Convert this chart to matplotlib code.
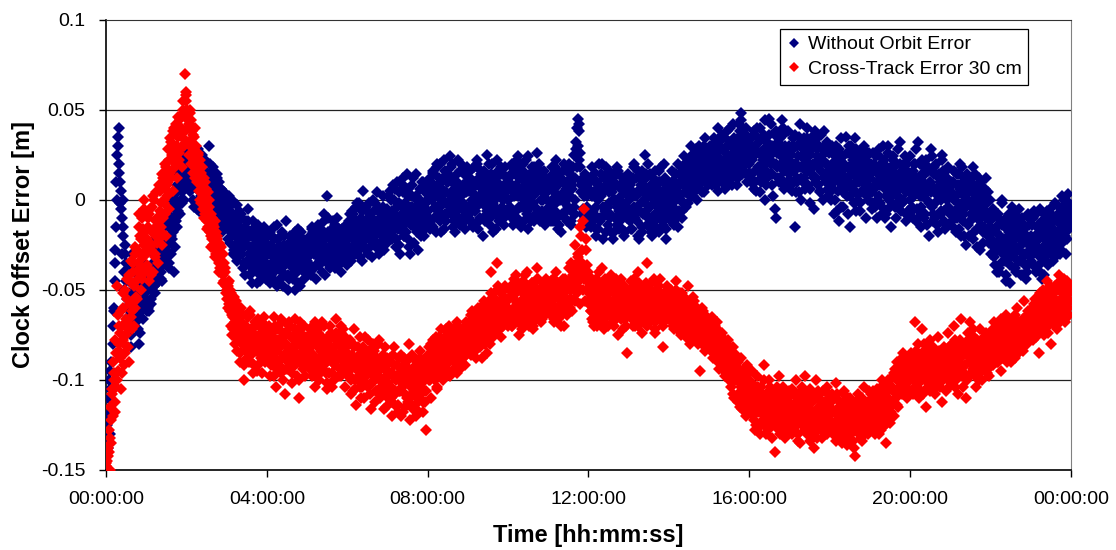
import numpy as np
import matplotlib
matplotlib.use("Agg")
import matplotlib.pyplot as plt
from matplotlib.lines import Line2D

# ---------------- data (clock offset error, millimetres) ----------------
# three interleaved sample sets, each one value every 2 minutes;
# set a at +0 s, set b at +40 s, set c at +80 s within each 2-minute step
SAMPLE_MIN = 2
SET_OFFSETS_MIN = [0.0, 2.0 / 3.0, 4.0 / 3.0]

without_orbit_a_mm = [
    -140, -125, -110, -95, -118, -80, -60, -35, 0, 35, 20, 5, -10, -20, -30, -45, -60, -52, -70, -38, -55, -65, -48, -60, -72, -50, -62, -45, -58, -40,
    -55, -45, -62, -40, -50, -35, -48, -30, -42, -25, -38, -20, -45, -15, -30, -28, -12, -35, -5, -22, -10, -40, 0, -15, 5, -8, 10, -2, 15, 8,
    20, 10, 28, 5, 15, 0, 22, 12, -5, 18, 8, 2, 25, 10, -2, 15, 5, 30, 0, 12, -8, 8, -3, 14, 2, -10, 6, -6, 4, -12,
    -5, -15, 2, -10, -20, -8, -25, -12, -3, -18, -28, -10, -22, -35, -15, -25, -5, -30, -20, -40, -12, -28, -18, -33, -25, -45, -22, -30, -15, -38,
    -30, -20, -40, -25, -35, -15, -45, -28, -22, -38, -32, -18, -48, -25, -35, -30, -42, -20, -28, -36, -24, -50, -30, -16, -38, -27, -33, -22, -40, -28,
    -28, -35, -20, -30, -15, -38, -25, -18, -32, -22, -28, -40, -20, -12, -26, 2, -30, -22, -35, -18, -25, -14, -30, -20, -36, -24, -16, -28, -20, -32,
    -22, -12, -30, -18, -8, -25, -15, -2, -20, -28, -10, -18, 5, -14, -22, -6, -16, -26, -10, 0, -20, -12, -24, -4, -15, -8, -18, 2, -12, -20,
    -5, -15, 5, -10, -20, 0, -8, 10, -12, -25, -3, -15, 8, -6, -18, 2, -10, -30, -4, 12, -8, -16, 0, -12, 6, -20, -2, -10, 4, -14,
    0, -10, 12, 5, -15, 8, -5, 18, 2, -12, 10, -3, 22, -8, 4, 14, -6, 0, 20, -15, 6, -2, 10, -10, 16, 2, -5, 8, -12, 4,
    5, -8, 12, 0, -15, 8, -4, 20, 2, -10, 14, -2, 6, -12, 25, 0, 10, -6, 4, -18, 8, 15, -5, 2, -10, 18, 0, 6, -8, 12,
    0, 10, -8, 18, 4, -12, 8, 22, -4, 12, -15, 6, 0, 15, -6, 24, 2, -10, 10, -2, 16, -8, 4, 20, -12, 8, 0, 12, -6, 5,
    5, -10, 12, 0, -6, 18, -2, 8, -14, 15, 2, -8, 20, 0, 10, -5, 14, -12, 6, 25, 0, 32, 45, 38, 18, 10, -5, 8, -15, 2,
    -5, 10, -15, 2, -8, 15, -20, 0, 8, -12, 20, -4, 5, -18, 12, -2, -10, 6, -22, 10, 0, -14, 16, -6, 2, -16, 8, -3, 12, -10,
    0, -12, 10, -5, 18, -8, 4, -20, 12, -2, -15, 8, 25, -6, 2, -10, 14, -18, 6, 0, -12, 10, -4, 16, -8, 2, -14, 6, -22, 4,
    -5, 8, -12, 2, 15, -8, 5, -15, 10, 0, -6, 12, 20, 4, -2, 16, 8, 25, 2, 14, 22, 6, 18, 10, 28, 12, 4, 20, 15, 8,
    15, 25, 8, 20, 30, 12, 22, 5, 18, 28, 14, 35, 20, 10, 25, 16, 32, 8, 22, 18, 30, 26, 12, 38, 48, 20, 28, 15, 35, 22,
    20, 10, 30, 15, 25, 5, 35, 18, 40, 12, 22, 28, 0, 32, 15, 45, 20, 8, 26, 36, -10, 18, 30, 12, 24, 40, 16, 28, 10, 22,
    15, 25, 5, 30, -15, 20, 10, 35, 18, 0, 28, 12, 22, 40, 8, 25, 15, 30, -5, 20, 12, 35, 22, 5, 28, 15, 38, 10, 20, 2,
    10, 0, 20, -8, 15, 30, 5, -12, 22, 8, -4, 18, 35, 2, 12, -15, 25, 6, -2, 16, 28, 0, 10, -6, 20, 4, 14, -10, 24, 8,
    5, 15, -5, 20, 8, -10, 25, 2, 12, -4, 30, 6, -8, 18, 0, 10, -15, 22, 4, 14, -2, 28, 8, -6, 16, 0, 12, -12, 20, 5,
    0, 12, -10, 5, 20, -5, 32, 8, -15, 2, 15, -8, 22, 0, -20, 10, 4, -12, 18, -2, 6, -18, 14, 0, 25, -6, 8, -14, 10, 2,
    -5, 8, -15, 0, 15, -10, -2, 20, -20, 5, -8, 12, -25, 0, 10, -12, -4, 18, -18, 2, -10, 8, -28, -3, 6, -15, -6, 12, -20, -8,
    -15, -25, -5, -30, -18, -40, -10, -22, -35, 0, -28, -15, -45, -20, -8, -32, -24, -12, -38, -18, -28, -5, -34, -22, -42, -14, -30, -20, -36, -10,
    -20, -30, -10, -25, -38, -15, -28, -5, -35, -18, -42, -22, -12, -30, -20, -8, -26, -16, -32, -10, -24, -4, -18, -28, -12, 0, -20, -8, 3, -14,
]

without_orbit_b_mm = [
    -135, -120, -100, -130, -105, -70, -45, -15, 25, 40, 10, -5, 0, -40, -25, -55, -65, -45, -75, -30, -62, -50, -68, -42, -80, -55, -48, -66, -35, -52,
    -48, -60, -38, -55, -42, -30, -52, -25, -46, -32, -18, -40, -28, -22, -35, -8, -25, -15, -30, 2, -18, -5, -12, 8, -3, 12, 4, 18, 0, 22,
    15, 25, 5, 18, 30, 8, 12, -2, 20, 0, 14, 6, -8, 16, 3, 10, -5, 20, 6, -4, 12, -10, 5, -6, 10, -15, 0, -8, -14, -2,
    -10, -22, -8, -18, 0, -28, -14, -20, -32, -6, -24, -16, -38, -26, -12, -34, -20, -42, -18, -26, -36, -22, -46, -30, -20, -34, -40, -25, -32, -20,
    -25, -38, -18, -42, -30, -22, -35, -48, -26, -32, -20, -40, -30, -36, -12, -28, -44, -34, -24, -30, -40, -18, -35, -46, -22, -32, -26, -38, -34, -24,
    -32, -22, -40, -26, -18, -30, -36, -28, -14, -34, -24, -30, -8, -22, -32, -18, -26, -38, -16, -28, -20, -32, -10, -26, -22, -30, -18, -24, -34, -14,
    -18, -26, -8, -30, -14, -20, -4, -24, -16, -32, -12, -6, -22, -18, -28, -10, -2, -20, -14, -24, -6, -18, 4, -16, -26, -10, -14, -22, -8, -16,
    -10, 2, -18, -6, 8, -14, -22, -4, 4, -16, -10, 12, -20, -2, -12, 6, -26, -8, 2, -14, -4, 14, -18, -8, 0, -12, 10, -6, -16, 0,
    -6, 8, -14, 0, 15, -4, -18, 6, -10, 20, -2, 12, -16, 4, -8, 10, -4, 18, 2, -12, 8, -6, 22, 0, -14, 6, -2, 14, -8, 10,
    -4, 10, -12, 6, 18, -6, 2, -16, 12, -2, 8, -10, 16, 4, -6, 10, -14, 6, 20, 0, -8, 12, 2, -12, 8, -4, 14, -10, 4, 10,
    8, -4, 14, -10, 6, 18, -6, 2, 12, -14, 4, 20, -2, 10, -8, 6, 14, -12, 2, 18, -4, 10, -10, 6, 16, -6, 4, -14, 12, 0,
    -4, 8, -12, 14, 4, -6, 10, -16, 2, 12, -8, 16, -2, 6, -12, 10, 2, -6, 18, -4, 12, 40, 30, 22, 4, -8, 12, -10, 6, -6,
    6, -8, 12, -12, 4, -4, 10, -16, 2, 14, -10, 6, -6, 18, -14, 4, -8, 12, 0, -18, 8, -4, 14, -12, 6, -2, -20, 10, -6, 2,
    -8, 6, -16, 12, -4, 2, -12, 16, -6, 8, -18, 4, -2, 14, -10, 6, -14, 2, 12, -8, 4, -16, 10, -4, 18, -12, 0, 12, -6, -2,
    4, -8, 10, -4, 6, 14, -10, 8, 2, 18, -2, 10, 4, 16, 8, 22, 10, 4, 20, 12, 28, 16, 8, 24, 14, 20, 30, 10, 26, 18,
    22, 12, 30, 18, 8, 26, 16, 32, 20, 10, 28, 22, 14, 30, 18, 40, 24, 12, 34, 20, 16, 28, 42, 22, 30, 18, 26, 36, 24, 14,
    28, 14, 22, 38, 10, 26, 18, 32, 4, 24, 16, 36, 20, 12, 30, 22, 42, 14, 28, -5, 20, 32, 10, 26, 18, 36, 6, 24, 16, 30,
    20, 8, 28, 16, 36, 12, 24, 4, 32, 18, 10, 26, 16, 34, 20, 6, 28, 18, 12, 38, 24, 8, 30, 16, 22, 0, 26, 14, 32, 12,
    4, 16, 26, 10, 0, 20, 12, 28, -4, 14, 24, 6, 18, 10, 30, 2, 16, 22, 8, -6, 20, 12, 26, 4, 14, 30, 8, 18, 0, 12,
    12, -2, 18, 6, 24, 0, 14, 8, 20, -8, 10, 16, 2, 26, 8, -4, 14, 6, 18, -10, 10, 2, 20, 12, -2, 8, 24, 4, -6, 14,
    8, -6, 16, 2, -12, 12, 6, 20, -4, 10, -10, 14, 4, 18, -2, 8, 24, -8, 6, 14, -14, 4, 10, -6, 16, 2, -16, 12, -4, 6,
    4, -12, 10, -6, 2, 14, -16, 6, -4, 10, -20, 0, 8, -14, 4, -8, 12, -22, -2, 6, -16, 2, -10, 10, -24, -6, 0, -18, 4, -12,
    -22, -10, -32, -16, -26, -8, -38, -20, -14, -30, -24, -42, -12, -28, -36, -18, -4, -30, -22, -40, -12, -26, -20, -34, -30, -16, -44, -24, -8, -28,
    -26, -14, -36, -20, -8, -30, -22, -40, -12, -26, -16, -34, -6, -24, -14, -30, -10, -22, -2, -18, -28, -8, -14, -24, -4, -16, -10, -22, -2, -6,
]

without_orbit_c_mm = [
    -128, -138, -105, -90, -112, -62, -28, 10, 30, 15, -2, -30, -15, -50, -35, -68, -40, -58, -82, -46, -70, -36, -56, -64, -44, -74, -52, -38, -60, -46,
    -62, -50, -44, -58, -36, -48, -22, -40, -34, -16, -44, -26, -10, -32, -24, -14, -38, -2, -20, -12, 0, -26, 6, -6, 14, 0, 20, 6, 24, 12,
    26, 14, 8, 24, 12, -4, 18, 6, 28, -6, 10, 16, 0, 22, -10, 6, 14, -2, 10, 18, -12, 2, 12, -8, -2, 6, -18, -4, -10, 0,
    -16, -4, -24, -12, -30, -2, -20, -34, -14, -24, -8, -30, -18, -42, -22, -12, -36, -26, -46, -16, -32, -24, -38, -14, -42, -28, -18, -36, -26, -44,
    -36, -26, -46, -20, -32, -40, -28, -14, -38, -44, -26, -34, -20, -42, -30, -50, -24, -36, -28, -44, -32, -22, -40, -30, -48, -18, -36, -44, -26, -34,
    -22, -30, -42, -16, -28, -24, -44, -20, -36, -26, -16, -34, -28, -42, -20, -10, -36, -26, -30, -12, -38, -22, -34, -16, -28, -40, -20, -30, -24, -36,
    -26, -16, -34, -6, -22, -30, -12, -28, -2, -20, -34, -14, -26, -4, -18, -30, -8, -22, -32, -16, -2, -26, -14, -30, -10, -20, -4, -28, -18, -24,
    -18, -8, 0, -22, -12, 6, -26, -16, -2, -30, -8, 4, -20, -12, 14, -22, -4, -14, 8, -24, -10, 2, -28, -6, -16, 10, -12, -20, -2, 6,
    8, -16, 4, 16, -10, 2, 20, -6, 12, -18, 6, 0, 16, -12, 10, -2, 24, -8, 12, -4, -18, 14, 4, -10, 20, -4, 8, -16, 6, 18,
    -10, 16, 4, -14, 10, -6, 22, 0, -12, 16, 6, -20, 12, -4, 2, 20, -10, 14, -2, 8, -16, 22, 6, -8, 14, 2, -14, 18, -6, 0,
    12, -6, 20, -14, 2, 14, -10, 24, 6, -4, 16, -12, 8, 22, -16, 12, -4, 18, 6, -12, 12, 26, -6, 14, 0, -10, 16, 4, -12, 10,
    10, -4, 18, -12, 6, 22, -10, 14, 0, -18, 10, 4, -10, 16, -4, 20, -14, 8, 12, -8, 28, 18, 42, 26, 8, -12, 2, 14, -4, -14,
    -12, 4, 18, -6, 10, -16, 6, 20, -10, 2, -22, 12, -8, 8, -4, 16, -18, 4, 14, -10, -2, 18, -16, 8, -8, 12, -4, -18, 4, 14,
    8, -16, 2, 20, -10, 12, -6, -22, 4, 16, -8, 0, 12, -14, 20, -4, 8, -20, 2, 16, -10, 6, -18, 10, 0, -8, 20, -16, 8, -4,
    -10, 2, 16, -14, 10, 0, 20, -6, 14, -10, 8, 24, -4, 12, 22, 2, 30, 14, 8, 26, 0, 18, 30, 12, 4, 22, 34, 16, 10, 28,
    30, 18, 10, 34, 14, 24, 40, 10, 28, 36, 18, 6, 26, 38, 14, 22, 30, 42, 16, 28, 8, 34, 20, 44, 14, 32, 20, 40, 10, 30,
    14, 34, 24, 6, 30, 40, 16, 26, 10, 34, 22, 44, 8, 26, 36, 14, 30, 2, 20, 38, 26, 12, 34, 20, 44, 8, 30, 18, 38, 14,
    28, 10, 34, 20, 4, 30, 18, 42, 12, 24, 34, 6, 30, 16, 26, -2, 32, 20, 36, 10, 28, 18, 4, 36, 22, 12, 30, 20, 6, 26,
    18, 30, 6, 24, 14, -6, 26, 16, 34, 4, 20, 10, 26, -8, 18, 30, 8, 14, 34, 4, 12, 24, -2, 18, 28, 10, 22, 2, 16, 26,
    20, 4, 26, -4, 16, 10, 28, -2, 18, 8, 22, -10, 14, 30, 6, 18, 2, 24, -4, 12, 20, 6, 32, -2, 10, 20, -8, 16, 8, 24,
    14, -4, 20, 8, 28, -10, 12, 2, 22, -8, 18, 6, -14, 16, 10, 28, -4, 14, -10, 20, 2, 12, -8, 22, 6, -12, 16, 0, 18, -8,
    10, -8, 16, 2, -18, 8, 14, -6, 18, -12, 2, -4, 14, -20, 6, 10, -10, 0, 14, -26, -6, 12, -14, 2, -18, 6, -10, -2, -24, 0,
    -30, -18, -6, -36, -24, -14, -40, -28, -2, -22, -34, -10, -30, -18, -46, -26, -14, -38, -8, -28, -34, -16, -42, -10, -24, -36, -22, -40, -14, -32,
    -34, -22, -6, -40, -26, -14, -32, -18, -44, -8, -30, -20, -36, -16, -28, -4, -34, -12, -26, -20, -8, -30, -16, 2, -22, -10, -30, -4, -16, -10,
]

cross_track_a_mm = [
    -148, -145, -140, -150, -135, -120, -100, -112, -48, -95, -80, -105, -70, -60, -85, -75, -55, -90, -45, -65, -40, -70, -30, -55, -35, -20, -50, -10, -25, -40,
    -30, -15, -45, -5, -25, -40, 0, -20, -10, -35, 5, -15, -25, 0, -8, -20, 10, -5, 15, 25, 5, 30, 20, 12, 35, 28, 40, 18, 30, 70,
    55, 40, 25, 50, 30, 15, 35, 20, 10, 25, 0, 15, 5, -10, 10, -5, -15, 0, -20, -10, -25, -12, -30, -20, -35, -25, -40, -30, -45, -38,
    -50, -60, -45, -70, -55, -65, -80, -58, -72, -62, -85, -68, -75, -100, -70, -82, -65, -78, -90, -72, -85, -68, -80, -95, -75, -70, -88, -78, -65, -82,
    -75, -85, -70, -92, -80, -65, -88, -78, -95, -72, -82, -68, -100, -76, -86, -74, -90, -70, -84, -96, -78, -66, -88, -80, -110, -74, -92, -82, -70, -86,
    -80, -90, -72, -85, -95, -78, -68, -88, -82, -100, -75, -86, -92, -70, -84, -105, -78, -88, -74, -96, -82, -90, -66, -86, -78, -98, -84, -72, -92, -80,
    -85, -95, -78, -100, -88, -72, -105, -90, -82, -98, -110, -86, -92, -76, -102, -94, -84, -108, -90, -80, -98, -112, -88, -95, -78, -104, -92, -86, -100, -115,
    -95, -105, -88, -112, -98, -82, -108, -92, -118, -100, -86, -104, -94, -115, -90, -102, -80, -110, -96, -88, -106, -120, -92, -100, -84, -108, -96, -90, -112, -128,
    -92, -82, -100, -88, -78, -95, -85, -105, -80, -90, -72, -98, -84, -76, -92, -80, -70, -88, -96, -74, -86, -78, -68, -90, -82, -72, -85, -76, -92, -70,
    -75, -68, -82, -62, -78, -70, -88, -65, -72, -60, -80, -66, -74, -58, -85, -62, -70, -40, -64, -76, -55, -68, -35, -60, -72, -52, -66, -58, -48, -64,
    -55, -65, -48, -70, -52, -60, -42, -58, -75, -50, -62, -45, -55, -68, -40, -58, -52, -64, -46, -72, -56, -50, -38, -60, -54, -66, -48, -58, -44, -62,
    -50, -62, -45, -58, -68, -52, -40, -60, -55, -65, -48, -58, -70, -50, -62, -45, -55, -35, -38, -48, -25, -40, -32, -42, -15, -28, -38, -5, -22, -45,
    -40, -55, -62, -48, -70, -52, -58, -45, -66, -50, -38, -60, -72, -54, -46, -64, -56, -42, -68, -52, -60, -48, -75, -56, -44, -62, -50, -66, -58, -85,
    -55, -62, -45, -70, -58, -50, -66, -40, -60, -52, -74, -56, -48, -64, -35, -58, -68, -50, -62, -44, -72, -54, -60, -48, -66, -56, -82, -52, -62, -58,
    -58, -65, -50, -70, -60, -45, -68, -55, -62, -75, -52, -66, -58, -72, -48, -64, -80, -60, -68, -56, -74, -62, -70, -95, -66, -60, -78, -64, -72, -68,
    -70, -78, -65, -85, -72, -80, -68, -90, -76, -84, -74, -95, -80, -88, -78, -100, -84, -92, -82, -110, -86, -96, -90, -115, -88, -100, -94, -105, -92, -110,
    -100, -110, -95, -118, -105, -125, -98, -112, -130, -104, -115, -92, -120, -108, -128, -100, -116, -106, -122, -140, -110, -118, -98, -126, -112, -104, -120, -132, -108, -115,
    -112, -120, -105, -128, -115, -100, -125, -110, -135, -118, -108, -122, -98, -130, -115, -105, -125, -112, -138, -118, -100, -128, -110, -120, -132, -106, -116, -124, -104, -118,
    -115, -125, -108, -130, -118, -102, -128, -120, -112, -135, -122, -106, -126, -116, -132, -110, -124, -118, -138, -142, -120, -108, -128, -114, -134, -122, -104, -126, -118, -112,
    -118, -108, -125, -112, -130, -105, -120, -115, -128, -100, -122, -110, -135, -116, -104, -124, -112, -98, -120, -106, -90, -115, -100, -92, -108, -85, -102, -95, -110, -88,
    -95, -85, -105, -90, -68, -100, -80, -110, -92, -72, -98, -88, -115, -84, -96, -78, -102, -90, -86, -108, -94, -76, -100, -88, -112, -82, -96, -90, -74, -104,
    -90, -80, -100, -70, -95, -85, -108, -88, -66, -98, -82, -92, -110, -78, -86, -68, -96, -90, -76, -104, -84, -94, -72, -88, -100, -80, -92, -74, -86, -98,
    -85, -75, -92, -68, -80, -88, -72, -84, -95, -70, -78, -86, -64, -82, -74, -90, -66, -80, -72, -86, -60, -76, -84, -68, -78, -56, -72, -80, -62, -74,
    -70, -60, -78, -55, -72, -65, -85, -58, -68, -50, -75, -62, -45, -70, -56, -80, -52, -66, -48, -60, -72, -42, -58, -65, -50, -55, -68, -45, -60, -52,
]

cross_track_b_mm = [
    -146, -142, -128, -115, -105, -90, -118, -85, -100, -70, -88, -62, -78, -92, -50, -68, -82, -42, -58, -72, -35, -60, -45, -28, -15, -38, -22, -32, -5, -18,
    -22, -38, -8, -28, -18, 2, -32, -12, -24, 8, -6, -18, 12, -2, 20, 8, 28, 15, 32, 22, 38, 26, 42, 30, 22, 45, 35, 55, 48, 60,
    45, 32, 48, 20, 38, 28, 12, 30, 18, 5, 22, 8, -5, 12, -2, -12, 4, -18, -8, -22, -15, -28, -18, -32, -24, -38, -30, -42, -35, -48,
    -55, -48, -62, -52, -75, -60, -68, -56, -78, -66, -90, -72, -64, -80, -70, -88, -76, -62, -84, -74, -92, -70, -82, -66, -78, -86, -72, -80, -90, -76,
    -82, -72, -90, -76, -86, -98, -70, -84, -78, -92, -66, -88, -80, -74, -94, -82, -68, -86, -76, -90, -84, -72, -98, -78, -86, -70, -80, -94, -76, -88,
    -86, -76, -94, -82, -70, -90, -80, -98, -74, -88, -84, -68, -92, -80, -96, -76, -86, -70, -90, -84, -100, -74, -88, -80, -94, -70, -86, -92, -76, -88,
    -92, -80, -98, -86, -106, -82, -94, -88, -100, -76, -92, -104, -84, -98, -88, -78, -96, -86, -102, -92, -84, -106, -94, -80, -100, -88, -108, -94, -82, -98,
    -102, -90, -110, -96, -86, -114, -100, -92, -106, -96, -120, -102, -88, -108, -98, -112, -94, -104, -86, -116, -100, -92, -110, -98, -88, -104, -118, -94, -100, -92,
    -86, -96, -80, -92, -84, -100, -76, -90, -82, -98, -86, -78, -94, -82, -88, -74, -96, -84, -78, -90, -80, -70, -88, -78, -94, -80, -74, -84, -68, -80,
    -70, -80, -64, -74, -84, -66, -76, -60, -72, -82, -64, -70, -56, -78, -66, -60, -74, -52, -70, -62, -58, -72, -48, -66, -56, -62, -70, -50, -64, -56,
    -60, -50, -66, -54, -44, -62, -56, -68, -48, -58, -64, -52, -42, -60, -54, -66, -50, -58, -70, -48, -62, -54, -44, -64, -52, -58, -46, -62, -56, -50,
    -56, -48, -64, -54, -44, -60, -50, -66, -46, -58, -52, -62, -44, -56, -50, -38, -60, -46, -42, -55, -36, -48, -30, -45, -20, -35, -12, -40, -28, -50,
    -58, -48, -66, -52, -60, -44, -70, -56, -48, -62, -54, -66, -46, -58, -64, -50, -44, -60, -56, -70, -52, -62, -46, -58, -66, -54, -48, -60, -70, -52,
    -60, -50, -66, -56, -44, -62, -54, -70, -48, -58, -64, -52, -60, -46, -66, -56, -50, -62, -54, -68, -46, -58, -64, -52, -60, -70, -54, -62, -48, -66,
    -62, -54, -68, -58, -64, -50, -72, -60, -56, -66, -62, -54, -70, -64, -58, -76, -62, -70, -54, -66, -72, -60, -68, -78, -62, -70, -66, -82, -70, -76,
    -74, -66, -82, -70, -78, -88, -72, -80, -86, -76, -92, -82, -86, -96, -84, -90, -104, -88, -96, -92, -100, -108, -94, -102, -110, -98, -106, -120, -102, -108,
    -106, -116, -102, -122, -110, -118, -104, -126, -114, -108, -122, -116, -130, -110, -118, -104, -124, -112, -120, -108, -126, -114, -106, -120, -116, -128, -110, -118, -124, -106,
    -116, -108, -126, -114, -122, -110, -130, -118, -106, -124, -116, -128, -112, -120, -108, -126, -118, -130, -110, -122, -116, -106, -124, -114, -120, -128, -112, -118, -130, -110,
    -122, -112, -130, -118, -126, -108, -120, -132, -116, -124, -114, -128, -120, -110, -126, -118, -130, -116, -122, -112, -128, -118, -124, -132, -110, -120, -126, -116, -122, -106,
    -112, -122, -106, -118, -126, -110, -116, -124, -108, -120, -114, -104, -118, -110, -122, -100, -114, -106, -96, -110, -100, -106, -94, -102, -98, -90, -104, -96, -88, -100,
    -100, -90, -108, -96, -84, -102, -94, -88, -106, -96, -80, -100, -92, -104, -86, -98, -92, -82, -100, -90, -104, -88, -96, -84, -100, -92, -86, -98, -94, -82,
    -84, -96, -88, -78, -100, -90, -82, -94, -86, -104, -80, -92, -86, -74, -98, -88, -80, -94, -84, -90, -78, -96, -86, -82, -92, -76, -88, -84, -94, -80,
    -78, -88, -72, -82, -76, -90, -70, -80, -86, -74, -82, -68, -84, -76, -70, -82, -74, -78, -64, -80, -72, -68, -82, -72, -66, -76, -70, -64, -78, -68,
    -64, -72, -58, -68, -62, -74, -54, -66, -60, -70, -56, -64, -52, -68, -60, -50, -64, -56, -70, -48, -62, -56, -46, -60, -52, -66, -48, -58, -50, -56,
]

cross_track_c_mm = [
    -150, -138, -132, -122, -108, -96, -78, -104, -64, -84, -74, -96, -52, -80, -66, -44, -72, -58, -34, -62, -48, -26, -54, -40, -8, -30, -44, -16, 0, -28,
    -36, -10, -26, -42, -4, -16, -30, 4, -14, -22, -2, 14, -10, 6, 18, 2, 22, 34, 12, 28, 40, 18, 36, 46, 26, 40, 30, 50, 38, 58,
    50, 42, 30, 44, 36, 22, 40, 14, 26, 12, -2, 18, 2, -8, 6, -16, -4, -12, -26, -14, -20, -32, -22, -28, -40, -26, -36, -46, -40, -52,
    -46, -58, -50, -64, -72, -54, -62, -84, -66, -74, -60, -80, -92, -70, -84, -74, -90, -64, -80, -96, -70, -84, -76, -92, -68, -84, -96, -74, -84, -70,
    -88, -78, -98, -74, -92, -84, -104, -72, -90, -80, -96, -76, -86, -108, -80, -94, -70, -88, -102, -82, -92, -74, -86, -100, -68, -90, -84, -76, -98, -80,
    -92, -84, -74, -98, -86, -104, -72, -92, -80, -96, -70, -94, -86, -78, -102, -88, -96, -82, -104, -76, -92, -86, -80, -98, -88, -74, -96, -84, -104, -90,
    -98, -86, -108, -92, -80, -100, -114, -94, -86, -104, -96, -82, -110, -98, -88, -104, -94, -116, -84, -100, -92, -106, -80, -98, -110, -90, -102, -116, -94, -88,
    -110, -96, -104, -120, -92, -106, -98, -114, -88, -106, -98, -118, -92, -102, -110, -96, -122, -98, -108, -94, -114, -104, -96, -118, -102, -92, -112, -100, -106, -96,
    -100, -90, -110, -94, -98, -86, -104, -92, -76, -96, -84, -100, -88, -72, -94, -86, -98, -78, -88, -94, -84, -96, -74, -84, -90, -78, -88, -72, -86, -78,
    -82, -72, -86, -76, -66, -84, -72, -80, -68, -76, -88, -62, -80, -68, -74, -56, -80, -66, -58, -74, -62, -50, -70, -60, -76, -62, -54, -68, -60, -70,
    -64, -54, -70, -48, -60, -52, -66, -46, -62, -56, -72, -50, -64, -58, -48, -70, -56, -46, -62, -54, -66, -44, -58, -50, -68, -56, -46, -64, -52, -60,
    -62, -52, -56, -44, -66, -54, -48, -62, -52, -70, -44, -60, -54, -64, -46, -58, -50, -62, -48, -56, -40, -52, -44, -58, -38, -50, -44, -56, -36, -56,
    -52, -62, -44, -68, -58, -50, -64, -40, -56, -68, -50, -62, -44, -58, -70, -52, -62, -48, -58, -66, -44, -56, -64, -50, -60, -72, -48, -58, -52, -64,
    -52, -64, -58, -48, -70, -56, -62, -46, -68, -58, -50, -64, -56, -70, -52, -60, -46, -64, -56, -74, -50, -62, -56, -44, -68, -60, -52, -66, -58, -54,
    -66, -56, -62, -72, -54, -64, -60, -68, -52, -70, -64, -58, -76, -62, -68, -56, -72, -64, -76, -62, -68, -80, -66, -74, -68, -62, -84, -72, -66, -80,
    -80, -72, -88, -76, -70, -86, -82, -94, -78, -88, -82, -98, -90, -80, -94, -86, -98, -108, -92, -100, -96, -112, -98, -104, -116, -102, -112, -98, -116, -104,
    -112, -102, -120, -108, -128, -114, -106, -118, -110, -124, -100, -114, -126, -118, -106, -120, -132, -114, -110, -124, -104, -118, -130, -112, -122, -108, -116, -128, -114, -120,
    -120, -130, -114, -108, -124, -118, -134, -112, -122, -104, -126, -118, -110, -128, -122, -134, -112, -120, -126, -108, -132, -116, -124, -112, -128, -118, -106, -124, -114, -122,
    -128, -118, -110, -124, -134, -116, -126, -112, -130, -120, -108, -128, -136, -118, -112, -124, -122, -134, -114, -126, -116, -130, -110, -124, -118, -128, -114, -120, -130, -116,
    -124, -114, -128, -108, -120, -116, -130, -112, -104, -126, -116, -108, -124, -100, -114, -118, -104, -112, -94, -106, -114, -96, -104, -88, -100, -108, -92, -102, -96, -106,
    -88, -98, -94, -106, -86, -96, -102, -90, -98, -108, -84, -94, -100, -90, -106, -82, -94, -98, -88, -102, -92, -84, -104, -96, -88, -98, -106, -86, -100, -92,
    -96, -86, -92, -104, -84, -90, -98, -78, -92, -86, -96, -82, -100, -90, -84, -96, -72, -88, -98, -82, -90, -100, -80, -94, -86, -90, -78, -96, -82, -88,
    -82, -72, -86, -78, -90, -74, -84, -66, -80, -88, -76, -72, -90, -78, -86, -70, -84, -76, -88, -70, -78, -82, -68, -76, -84, -66, -80, -72, -70, -76,
    -74, -62, -68, -76, -60, -70, -52, -64, -72, -58, -66, -54, -74, -62, -48, -66, -58, -52, -64, -56, -46, -68, -60, -52, -44, -62, -56, -50, -64, -48,
]

series_names = ["Without Orbit Error", "Cross-Track Error 30 cm"]
series_colors = ["#000080", "#FF0000"]

xtick_hours = [0, 4, 8, 12, 16, 20, 24]
xtick_labels = ["00:00:00", "04:00:00", "08:00:00", "12:00:00", "16:00:00", "20:00:00", "00:00:00"]
ytick_values = [-0.15, -0.1, -0.05, 0, 0.05, 0.1]
ytick_labels = ["-0.15", "-0.1", "-0.05", "0", "0.05", "0.1"]

# ---------------- plotting ----------------
plt.rcParams["font.family"] = ["Liberation Sans", "DejaVu Sans"]

fig = plt.figure(figsize=(11.16, 5.5), dpi=100)
ax = fig.add_axes([0.095, 0.1455, 0.8645, 0.819])


def as_series(*sets_mm):
    ts, vs = [], []
    for off, s in zip(SET_OFFSETS_MIN, sets_mm):
        v = np.array(s) / 1000.0
        t = (np.arange(len(v)) * SAMPLE_MIN + off) / 60.0
        ts.append(t)
        vs.append(v)
    t = np.concatenate(ts)
    v = np.concatenate(vs)
    order = np.argsort(t, kind="stable")
    return t[order], v[order]


series = [as_series(without_orbit_a_mm, without_orbit_b_mm, without_orbit_c_mm),
          as_series(cross_track_a_mm, cross_track_b_mm, cross_track_c_mm)]
for (t, vals), name, col in zip(series, series_names, series_colors):
    ax.plot(t, vals, linestyle="none", marker="D", ms=6.2, mew=0,
            color=col, label=name, zorder=3)

ax.set_xlim(0, 24)
ax.set_ylim(-0.15, 0.1)
ax.set_xticks(xtick_hours)
ax.set_xticklabels(xtick_labels)
ax.set_yticks(ytick_values)
ax.set_yticklabels(ytick_labels)
ax.tick_params(axis="both", labelsize=14, direction="out", length=5,
               width=1, color="black")
ax.tick_params(axis="x", pad=10)
ax.tick_params(axis="y", pad=10)

for y in [-0.1, -0.05, 0, 0.05]:
    ax.axhline(y, color="#222222", lw=0.9, zorder=1)

ax.spines["left"].set_color("black")
ax.spines["bottom"].set_color("black")
ax.spines["left"].set_linewidth(1.2)
ax.spines["bottom"].set_linewidth(1.2)
ax.spines["top"].set_color("#333333")
ax.spines["right"].set_color("#808080")

ax.set_xlabel("Time [hh:mm:ss]", fontsize=17, fontweight="bold", labelpad=12)
ax.set_ylabel("Clock Offset Error [m]", fontsize=17, fontweight="bold", labelpad=4)

handles = [Line2D([], [], linestyle="none", marker="D", ms=5, mew=0, color=c)
           for c in series_colors]
leg = ax.legend(handles, series_names, loc="upper right",
                bbox_to_anchor=(0.956, 0.979), borderaxespad=0,
                fontsize=14, frameon=True, fancybox=False, framealpha=1,
                edgecolor="black", handlelength=0.8, handletextpad=0.3,
                borderpad=0.35, labelspacing=0.35)
leg.get_frame().set_linewidth(0.9)

fig.savefig("out.png", dpi=100)
